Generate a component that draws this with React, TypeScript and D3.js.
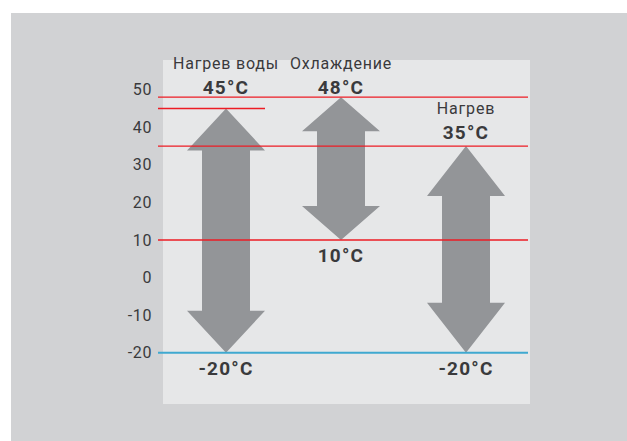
import React from "react";
import * as d3 from "d3";

const categories = ["Нагрев воды", "Охлаждение", "Нагрев"];
const maxTemps = [45, 48, 35];
const minTemps = [-20, 10, -20];
const headHeights = [42, 34, 50];
const tickValues = [50, 40, 30, 20, 10, 0, -10, -20];
const redLevels = [48, 35, 10];
const partialLevel = 45;
const blueLevel = -20;

const W = 627;
const H = 441;

export default function App() {
  const y = d3.scaleLinear().domain([-20, 50]).range([352.7, 89.7]);
  const x = d3.scaleOrdinal<string, number>().domain(categories).range([226, 341, 466]);
  const headHalf = 39;
  const shaftHalf = 24;
  const lineX0 = 158;
  const lineX1 = 528;
  const textColor = "#3a3a3c";
  const font = "Roboto, 'DejaVu Sans', sans-serif";

  const arrowPath = (i: number) => {
    const cx = x(categories[i]);
    const top = y(maxTemps[i]);
    const bot = y(minTemps[i]);
    const hh = headHeights[i];
    const p = d3.path();
    p.moveTo(cx, top);
    p.lineTo(cx + headHalf, top + hh);
    p.lineTo(cx + shaftHalf, top + hh);
    p.lineTo(cx + shaftHalf, bot - hh);
    p.lineTo(cx + headHalf, bot - hh);
    p.lineTo(cx, bot);
    p.lineTo(cx - headHalf, bot - hh);
    p.lineTo(cx - shaftHalf, bot - hh);
    p.lineTo(cx - shaftHalf, top + hh);
    p.lineTo(cx - headHalf, top + hh);
    p.closePath();
    return p.toString();
  };

  return (
    <svg
      width={W}
      height={H}
      style={{ position: "absolute", left: 0, top: 0, display: "block" }}
      fontFamily={font}
    >
      <rect x={0} y={0} width={W} height={H} fill="#ffffff" />
      <rect x={11} y={13} width={W - 11} height={H - 13} fill="#d1d2d4" />
      <rect x={163} y={60} width={367} height={344} fill="#e6e7e8" />

      {tickValues.map((t) => (
        <text
          key={t}
          x={152}
          y={y(t)}
          dy="0.35em"
          textAnchor="end"
          fontSize={16}
          letterSpacing={0.6}
          fill={textColor}
        >
          {t}
        </text>
      ))}

      {categories.map((c, i) => (
        <path key={c} d={arrowPath(i)} fill="#939598" />
      ))}

      {redLevels.map((v) => (
        <line
          key={v}
          x1={lineX0}
          x2={lineX1}
          y1={y(v)}
          y2={y(v)}
          stroke="#ed1c24"
          strokeWidth={1.3}
        />
      ))}
      <line
        x1={lineX0}
        x2={265}
        y1={y(partialLevel)}
        y2={y(partialLevel)}
        stroke="#ed1c24"
        strokeWidth={1.3}
      />
      <line
        x1={lineX0}
        x2={lineX1}
        y1={y(blueLevel)}
        y2={y(blueLevel)}
        stroke="#3fa9d0"
        strokeWidth={2}
      />

      {categories.map((c, i) => {
        const cx = x(c);
        const tempY = maxTemps[i] <= 40 ? y(maxTemps[i]) - 7 : y(50) + 4.5;
        return (
          <g key={c} fill={textColor} textAnchor="middle">
            <text x={cx} y={tempY - 25} fontSize={16} letterSpacing={0.8}>
              {c}
            </text>
            <text x={cx} y={tempY} fontSize={19} fontWeight="bold" letterSpacing={1.2}>
              {maxTemps[i]}°C
            </text>
            <text
              x={cx}
              y={y(minTemps[i]) + 22}
              fontSize={19}
              fontWeight="bold"
              letterSpacing={1.2}
            >
              {minTemps[i]}°C
            </text>
          </g>
        );
      })}
    </svg>
  );
}
